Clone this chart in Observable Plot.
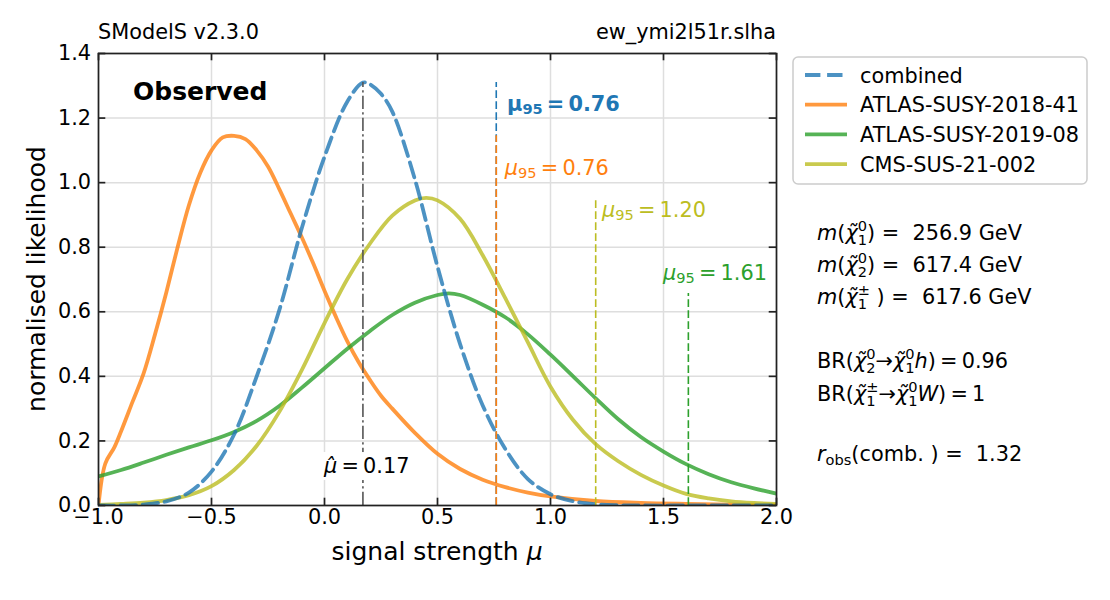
<!DOCTYPE html>
<html>
<head>
<meta charset="utf-8">
<script src="https://cdn.jsdelivr.net/npm/d3@7"></script>
<script src="https://cdn.jsdelivr.net/npm/@observablehq/plot@0.6"></script>
<style>
  body { margin: 0; background: #fff; }
  svg { font-family: "DejaVu Sans", sans-serif; }
</style>
</head>
<body>
<div id="chart"></div>
<script>
// ---------------- data ----------------
const xTicks = [-1, -0.5, 0, 0.5, 1, 1.5, 2];
const xTickLabels = ["\u22121.0", "\u22120.5", "0.0", "0.5", "1.0", "1.5", "2.0"];
const yTicks = [0, 0.2, 0.4, 0.6, 0.8, 1.0, 1.2, 1.4];
const yTickLabels = ["0.0", "0.2", "0.4", "0.6", "0.8", "1.0", "1.2", "1.4"];

const seriesNames = ["combined", "ATLAS-SUSY-2018-41", "ATLAS-SUSY-2019-08", "CMS-SUS-21-002"];
const seriesColors = ["#1f77b4", "#ff7f0e", "#2ca02c", "#bcbd22"];
const mu95Values = [0.76, 0.76, 1.61, 1.20];
const mu95Labels = ["0.76", "0.76", "1.61", "1.20"];
const muHat = 0.17;
const muHatLabel = "0.17";

const combinedMu = [-1.0,-0.9,-0.8,-0.7,-0.6,-0.5,-0.4,-0.3,-0.2,-0.1,0.0,0.1,0.17,0.2,0.25,0.3,0.4,0.5,0.6,0.7,0.8,0.9,1.0,1.1,1.2,1.3,1.4,1.6,1.8,2.0];
const combinedL  = [0,0,0.003,0.013,0.04,0.105,0.22,0.40,0.605,0.86,1.08,1.25,1.31,1.305,1.275,1.22,1.01,0.74,0.50,0.31,0.175,0.082,0.035,0.013,0.004,0.001,0,0,0,0];

const atlas1841Mu = [-1.0,-0.97,-0.93,-0.9,-0.85,-0.8,-0.75,-0.7,-0.65,-0.6,-0.55,-0.5,-0.45,-0.4,-0.35,-0.3,-0.25,-0.2,-0.15,-0.1,-0.05,0.0,0.05,0.1,0.15,0.2,0.25,0.3,0.4,0.5,0.6,0.7,0.8,0.9,1.0,1.2,1.4,1.6,1.8,2.0];
const atlas1841L  = [0,0.13,0.18,0.23,0.32,0.41,0.53,0.66,0.80,0.93,1.03,1.10,1.14,1.145,1.135,1.10,1.05,0.98,0.905,0.83,0.75,0.665,0.585,0.51,0.445,0.39,0.34,0.30,0.225,0.16,0.113,0.08,0.057,0.04,0.028,0.014,0.008,0.005,0.003,0.002];

const atlas1908Mu = [-1.0,-0.9,-0.8,-0.7,-0.6,-0.5,-0.4,-0.3,-0.2,-0.1,0.0,0.1,0.2,0.3,0.4,0.5,0.55,0.6,0.7,0.8,0.9,1.0,1.1,1.2,1.3,1.4,1.5,1.6,1.7,1.8,1.9,2.0];
const atlas1908L  = [0.09,0.11,0.133,0.157,0.18,0.202,0.228,0.262,0.308,0.365,0.425,0.485,0.54,0.59,0.628,0.652,0.657,0.652,0.622,0.583,0.53,0.467,0.40,0.332,0.267,0.212,0.167,0.128,0.097,0.072,0.053,0.037];

const cms21002Mu = [-1.0,-0.9,-0.8,-0.7,-0.6,-0.5,-0.4,-0.3,-0.2,-0.1,0.0,0.1,0.2,0.3,0.4,0.45,0.5,0.6,0.7,0.8,0.9,1.0,1.1,1.2,1.3,1.4,1.5,1.6,1.7,1.8,1.9,2.0];
const cms21002L  = [0.002,0.005,0.009,0.017,0.032,0.06,0.11,0.185,0.29,0.42,0.565,0.70,0.81,0.898,0.945,0.953,0.945,0.888,0.775,0.642,0.505,0.368,0.265,0.19,0.137,0.095,0.062,0.036,0.022,0.013,0.008,0.005];

const seriesMu = [combinedMu, atlas1841Mu, atlas1908Mu, cms21002Mu];
const seriesL  = [combinedL, atlas1841L, atlas1908L, cms21002L];

// ---------------- build tables ----------------
const tables = seriesNames.map((name, i) => seriesMu[i].map((m, j) => ({series: name, mu: m, L: seriesL[i][j]})));
const maxima = seriesL.map(arr => d3.max(arr));
const limits = seriesNames.map((name, i) => ({series: name, mu: mu95Values[i], top: maxima[i], color: seriesColors[i]}));

// ---------------- layout ----------------
const W = 1110, H = 600, ML = 98, MR = 334, MT = 53, MB = 95;
const innerW = W - ML - MR, innerH = H - MT - MB;
const FS = 20.83;
const TICK = 7.3;
const ink = "#222";
const EQ = "\u2009=\u2009";

const lineMark = (i) => Plot.line(tables[i], {
  x: "mu", y: "L", stroke: seriesColors[i], strokeOpacity: 0.8,
  strokeWidth: 3.8, curve: "catmull-rom", clip: true,
  strokeDasharray: i === 0 ? "15.4,6.7" : null
});

const plotEl = Plot.plot({
  width: W, height: H,
  marginLeft: ML, marginRight: MR, marginTop: MT, marginBottom: MB,
  style: {fontFamily: "DejaVu Sans", background: "white", overflow: "visible"},
  x: {domain: [-1, 2], axis: null},
  y: {domain: [0, 1.4], axis: null},
  marks: [
    Plot.ruleX(xTicks, {x: d => d, stroke: "#dedede", strokeWidth: 1.5}),
    Plot.ruleY(yTicks, {y: d => d, stroke: "#dedede", strokeWidth: 1.5}),
    lineMark(1), lineMark(2), lineMark(3), lineMark(0),
    Plot.ruleX(limits, {x: "mu", y1: 0, y2: "top", stroke: "color", strokeWidth: 1.6, strokeDasharray: "7.7,3.3"}),
    Plot.ruleX([muHat], {x: d => d, y1: 0, y2: maxima[0], stroke: "#555", strokeWidth: 1.6, strokeDasharray: "13.3,3.3,2.1,3.3"}),
    Plot.frame({stroke: ink, strokeWidth: 1.7}),
    Plot.ruleX(xTicks, {x: d => d, insetTop: innerH - TICK, stroke: ink, strokeWidth: 1.7}),
    Plot.ruleX(xTicks, {x: d => d, insetBottom: innerH - TICK, stroke: ink, strokeWidth: 1.7}),
    Plot.ruleY(yTicks, {y: d => d, insetRight: innerW - TICK, stroke: ink, strokeWidth: 1.7}),
    Plot.ruleY(yTicks, {y: d => d, insetLeft: innerW - TICK, stroke: ink, strokeWidth: 1.7}),
    Plot.text(xTicks, {x: d => d, frameAnchor: "bottom", dy: 18, text: (d, i) => xTickLabels[i], fontSize: FS, fill: "#000"}),
    Plot.text(yTicks, {y: d => d, frameAnchor: "left", dx: -7.5, textAnchor: "end", text: (d, i) => yTickLabels[i], fontSize: FS, fill: "#000"})
  ]
});
document.getElementById("chart").appendChild(plotEl);

const svg = d3.select(plotEl);
const xs = plotEl.scale("x"), ys = plotEl.scale("y");
const X = v => xs.apply(v), Y = v => ys.apply(v);

// ------------- rich text helper -------------
function rich(parent, x, y, parts, o = {}) {
  const g = parent.append("g")
    .attr("fill", o.fill || "#000")
    .attr("text-anchor", "start")
    .attr("font-family", "DejaVu Sans")
    .attr("font-weight", o.bold ? "bold" : "normal");
  const size = o.size || FS;
  let cx = x;
  for (const p of parts) {
    const items = p.stack ? p.stack : [p];
    let w = 0;
    for (const q of items) {
      const t = g.append("text")
        .attr("x", cx).attr("y", y + (q.dy || 0))
        .attr("text-anchor", "start")
        .attr("font-size", size * (q.s || 1))
        .attr("font-style", q.i ? "italic" : "normal")
        .style("white-space", "pre")
        .text(q.t);
      w = Math.max(w, t.node().getComputedTextLength());
    }
    cx += w;
  }
  return g;
}
const I = t => ({t, i: true});
const R = t => ({t});
const chi = (sup, sub) => [I("\u03C7\u0303"), {stack: [{t: sup, s: 0.7, dy: -9}, {t: sub, s: 0.7, dy: 5}]}];
const txt = (x, y, s, o = {}) => svg.append("text").attr("x", x).attr("y", y)
  .attr("font-size", o.size || FS).attr("fill", "#000")
  .attr("text-anchor", o.anchor || "start")
  .attr("font-weight", o.bold ? "bold" : "normal").text(s);

// ------------- titles -------------
txt(ML, 39, "SModelS v2.3.0");
txt(W - MR, 39, "ew_ymi2l51r.slha", {anchor: "end"});
txt(133, 100, "Observed", {size: 25, bold: true});

// axis labels
const xl = svg.append("text").attr("x", ML + innerW / 2).attr("y", 560).attr("font-size", 25).attr("text-anchor", "middle").attr("fill", "#000");
xl.append("tspan").text("signal strength ");
xl.append("tspan").attr("font-style", "italic").text("\u03BC");
svg.append("text").attr("transform", `translate(45,${MT + innerH / 2}) rotate(-90)`).attr("font-size", 25).attr("text-anchor", "middle").attr("fill", "#000").text("normalised likelihood");

// ------------- mu95 labels -------------
const labelPos = [
  {x: 0.81, y: 1.22},
  {x: 0.80, y: 1.022},
  {x: 1.50, y: 0.697},
  {x: 1.23, y: 0.892}
];
seriesNames.forEach((name, i) => {
  const bold = i === 0;
  rich(svg, X(labelPos[i].x), Y(labelPos[i].y), [
    bold ? R("\u03BC") : I("\u03BC"),
    {t: "95", s: 0.7, dy: 3},
    R(EQ + mu95Labels[i])
  ], {fill: seriesColors[i], bold});
});

// mu-hat label with white box
const hatBox = svg.append("g");
const hatRect = hatBox.append("rect").attr("fill", "white");
const hatG = rich(hatBox, X(0.0), Y(0.099), [I("\u03BC\u0302"), R(EQ + muHatLabel)]);
const hb = hatG.node().getBBox();
hatRect.attr("x", hb.x - 2).attr("y", hb.y - 2).attr("width", hb.width + 4).attr("height", hb.height + 4);

// ------------- legend -------------
const lg = svg.append("g");
lg.append("rect").attr("x", 793).attr("y", 57).attr("width", 294).attr("height", 127).attr("rx", 5)
  .attr("fill", "white").attr("fill-opacity", 0.8).attr("stroke", "#cccccc").attr("stroke-width", 1.5);
seriesNames.forEach((name, i) => {
  const yy = 75 + i * 29.7;
  lg.append("line").attr("x1", 805).attr("x2", 847).attr("y1", yy).attr("y2", yy)
    .attr("stroke", seriesColors[i]).attr("stroke-opacity", 0.8).attr("stroke-width", 3.8)
    .attr("stroke-dasharray", i === 0 ? "15.4,6.7" : null);
  lg.append("text").attr("x", 860).attr("y", yy + 7.5).attr("font-size", FS).attr("fill", "#000")
    .attr("text-anchor", "start").text(name);
});

// ------------- info text -------------
const ix = 817;
rich(svg, ix, 239.6, [I("m"), R("("), ...chi("0", "1"), R(") =  256.9 GeV")]);
rich(svg, ix, 271.6, [I("m"), R("("), ...chi("0", "2"), R(") =  617.4 GeV")]);
rich(svg, ix, 304.0, [I("m"), R("("), ...chi("\u00B1", "1"), R(" ) =  617.6 GeV")]);
rich(svg, ix, 367.6, [R("BR("), ...chi("0", "2"), R("\u2192"), ...chi("0", "1"), I("h"), R(")" + EQ + "0.96")]);
rich(svg, ix, 400.6, [R("BR("), ...chi("\u00B1", "1"), R("\u2192"), ...chi("0", "1"), I("W"), R(")" + EQ + "1")]);
rich(svg, ix, 460.6, [I("r"), {t: "obs", s: 0.7, dy: 4}, R("(comb. ) =  1.32")]);
</script>
</body>
</html>
